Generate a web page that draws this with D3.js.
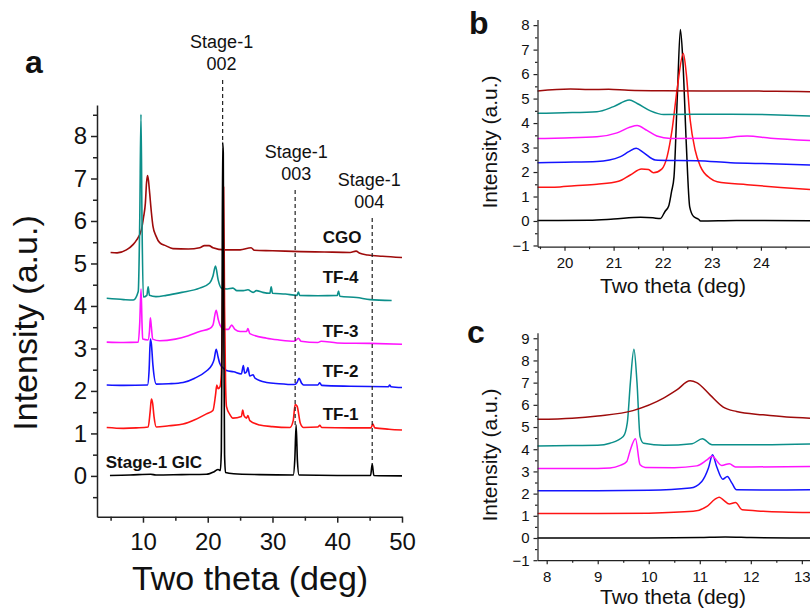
<!DOCTYPE html>
<html><head><meta charset="utf-8">
<script src="https://cdn.jsdelivr.net/npm/d3@7/dist/d3.min.js"></script>
<style>
body{margin:0;background:#fff;}
svg text{font-family:"Liberation Sans",Arial,sans-serif;fill:#111;}
</style></head>
<body><svg id="fig" width="810" height="610"></svg>
<script>
// ---------------- DATA ----------------
const seriesNames = ["Stage-1 GIC","TF-1","TF-2","TF-3","TF-4","CGO"];
const seriesColors = ["#000000","#ff1414","#1414ff","#ff14ff","#0c8f8a","#9e0b0b"];

// Panel a (full range)
const aGIC = [[4.9,0.01],[8,0.02],[11.2,0.04],[12,0.02],[16,0.03],[19.8,0.04],[21,0.1],[21.6,0.15],[21.95,0.13],[22.1,0.6],[22.2,3.0],[22.3,7.85],[22.4,7.6],[22.5,3.0],[22.6,0.5],[22.75,0.08],[24,0.05],[28,0.03],[33.2,0.02],[33.45,0.4],[33.65,1.2],[33.85,0.35],[34.1,0.02],[40,0.01],[45.15,0.01],[45.4,0.28],[45.65,0.01],[50,0.0]];
const aTF1 = [[4.4,1.14],[7,1.12],[9,1.13],[10.8,1.15],[11.1,1.5],[11.3,1.81],[11.5,1.7],[11.7,1.4],[12.06,1.15],[14,1.18],[16.2,1.22],[18,1.32],[19.8,1.46],[20.8,1.54],[21.2,1.9],[21.4,2.14],[21.6,2.05],[21.9,2.1],[22.1,2.4],[22.3,4.5],[22.45,6.8],[22.6,4.0],[22.75,2.2],[22.9,1.63],[23.4,1.45],[23.9,1.36],[25.2,1.4],[25.4,1.55],[25.6,1.42],[26,1.36],[26.2,1.42],[26.5,1.3],[28,1.2],[30,1.16],[32.7,1.14],[33.2,1.3],[33.5,1.68],[33.8,1.64],[34.3,1.24],[34.8,1.14],[37,1.15],[37.3,1.19],[37.6,1.14],[42,1.13],[45.2,1.13],[45.5,1.22],[45.8,1.13],[48,1.1],[50,1.08]];
const aTF2 = [[4.4,2.14],[7,2.13],[10.7,2.14],[10.95,2.5],[11.14,3.22],[11.3,3.1],[11.54,2.6],[12.06,2.16],[14,2.17],[16.2,2.2],[18,2.3],[19.8,2.47],[20.6,2.6],[21.0,2.75],[21.3,2.98],[21.6,2.8],[21.85,2.65],[22.3,2.55],[22.9,2.48],[24,2.45],[25.2,2.4],[25.5,2.6],[25.7,2.42],[26,2.45],[26.2,2.55],[26.5,2.35],[27,2.38],[27.3,2.3],[29.1,2.2],[31,2.17],[33.4,2.15],[33.8,2.2],[34.1,2.3],[34.5,2.18],[34.8,2.14],[37,2.14],[37.3,2.19],[37.6,2.13],[42,2.11],[47.9,2.1],[48.1,2.14],[48.3,2.1],[50,2.08]];
const aTF3 = [[4.4,3.15],[7,3.14],[9.27,3.15],[9.5,3.6],[9.7,4.4],[9.85,3.6],[9.95,3.22],[10.77,3.2],[11.0,3.4],[11.14,3.72],[11.3,3.5],[11.5,3.22],[12.6,3.18],[15,3.22],[17,3.3],[18.76,3.4],[20.3,3.47],[20.8,3.55],[21.3,3.9],[21.6,3.7],[21.9,3.55],[22.6,3.45],[23.2,3.45],[23.7,3.55],[24.2,3.45],[25,3.4],[26.0,3.4],[26.2,3.47],[26.5,3.35],[29.1,3.24],[31,3.2],[33.4,3.17],[34.0,3.24],[34.4,3.17],[37,3.14],[37.5,3.17],[40,3.13],[45,3.12],[50,3.1]];
const aTF4 = [[4.4,4.18],[7,4.15],[8.5,4.14],[9.27,4.34],[9.5,6.0],[9.69,8.51],[9.85,6.0],[10.05,4.21],[10.6,4.25],[10.8,4.45],[11.0,4.25],[12,4.22],[13.6,4.25],[16,4.32],[18.75,4.42],[20.3,4.54],[20.8,4.7],[21.2,4.94],[21.6,4.62],[22.1,4.42],[23.0,4.4],[23.9,4.42],[24.5,4.36],[25.5,4.36],[26.2,4.38],[27,4.32],[27.5,4.36],[28.5,4.32],[29.6,4.3],[29.8,4.45],[30.0,4.3],[32,4.28],[33.8,4.25],[34.0,4.33],[34.2,4.25],[37,4.24],[40.0,4.25],[40.2,4.35],[40.4,4.23],[43,4.2],[45.1,4.15],[48.4,4.13]];
const aCGO = [[5.0,5.26],[6,5.25],[7.44,5.32],[8.5,5.45],[9,5.55],[9.75,5.79],[10.1,6.1],[10.37,6.42],[10.55,6.9],[10.7,7.07],[10.85,6.95],[11.03,6.66],[11.3,6.2],[11.54,5.88],[12,5.65],[12.58,5.49],[13.5,5.42],[14.63,5.35],[17,5.34],[18.75,5.37],[19.5,5.42],[20.2,5.42],[20.8,5.37],[22.6,5.32],[25,5.32],[26.7,5.37],[27.2,5.31],[30,5.3],[34.4,5.28],[38,5.27],[42,5.26],[42.9,5.29],[43.5,5.24],[44.7,5.2],[47,5.17],[50,5.14]];

// Panel b (19.5-25 deg)
const bGIC = [[19.45,0.02],[20.5,0.03],[21.0,0.08],[21.55,0.15],[21.8,0.13],[21.95,0.1],[22.05,0.4],[22.12,0.6],[22.18,1.2],[22.23,1.8],[22.3,5.2],[22.36,7.82],[22.41,6.57],[22.48,3.17],[22.55,0.58],[22.63,0.18],[22.73,0.07],[22.77,0.0],[23.5,0.02],[25,0.01]];
const bTF1 = [[19.45,1.38],[19.8,1.38],[20.2,1.44],[20.66,1.5],[21.1,1.62],[21.34,1.88],[21.57,2.12],[21.71,2.1],[21.81,1.97],[21.98,2.12],[22.09,2.63],[22.19,3.71],[22.3,5.48],[22.42,6.84],[22.48,6.03],[22.56,4.12],[22.66,2.9],[22.77,2.22],[22.97,1.74],[23.11,1.6],[23.72,1.48],[24.4,1.37],[25,1.29]];
const bTF2 = [[19.45,2.38],[20.0,2.4],[20.66,2.43],[21.14,2.63],[21.31,2.83],[21.46,2.97],[21.61,2.79],[21.85,2.49],[22.16,2.47],[22.7,2.46],[23.38,2.38],[24.2,2.34],[25,2.29]];
const bTF3 = [[19.45,3.37],[20.0,3.39],[20.66,3.44],[21.07,3.6],[21.34,3.84],[21.48,3.9],[21.68,3.7],[21.88,3.47],[22.16,3.37],[23.11,3.38],[23.72,3.47],[24.2,3.38],[25,3.29]];
const bTF4 = [[19.45,4.4],[20.0,4.42],[20.66,4.46],[21.0,4.67],[21.32,4.94],[21.48,4.8],[21.75,4.5],[22.02,4.35],[23.38,4.36],[24.2,4.34],[25,4.29]];
const bCGO = [[19.45,5.31],[20.12,5.39],[20.5,5.37],[20.9,5.38],[21.3,5.34],[22.02,5.32],[23.38,5.31],[24.3,5.3],[25,5.28]];

// Panel c (8-13 deg)
const cGIC = [[7.82,0.0],[10,0.0],[11.0,0.02],[11.5,0.04],[12,0.02],[13.16,0.0]];
const cTF1 = [[7.82,1.1],[9,1.1],[10,1.12],[10.87,1.2],[11.14,1.42],[11.3,1.75],[11.38,1.84],[11.46,1.72],[11.58,1.53],[11.7,1.6],[11.83,1.27],[12.24,1.21],[13.16,1.15]];
const cTF2 = [[7.82,2.13],[9,2.13],[10,2.15],[10.81,2.25],[11.04,2.55],[11.17,3.15],[11.25,3.75],[11.33,3.22],[11.45,2.65],[11.54,2.77],[11.63,2.47],[11.72,2.17],[12.5,2.16],[13.16,2.17]];
const cTF3 = [[7.82,3.13],[9,3.13],[9.24,3.15],[9.44,3.27],[9.57,3.45],[9.63,3.9],[9.74,4.47],[9.83,3.3],[9.93,3.18],[10.5,3.17],[10.94,3.25],[11.14,3.52],[11.24,3.68],[11.43,3.27],[11.58,3.35],[11.7,3.2],[13.16,3.22]];
const cTF4 = [[7.82,4.15],[8.5,4.17],[9.0,4.18],[9.24,4.27],[9.5,4.57],[9.58,5.2],[9.64,7.0],[9.71,8.5],[9.77,7.0],[9.83,4.57],[9.9,4.27],[10.3,4.18],[10.85,4.25],[11.05,4.47],[11.24,4.2],[12,4.2],[13.16,4.24]];
const cCGO = [[7.82,5.35],[8.5,5.4],[9.0,5.5],[9.69,5.74],[10.29,6.3],[10.55,6.67],[10.81,7.08],[10.94,7.0],[11.2,6.45],[11.46,5.9],[11.72,5.7],[12.24,5.55],[12.7,5.45],[13.16,5.4]];

// Tick values
const aXTicks = [10,20,30,40,50], aXMinor = [5,15,25,35,45];
const aYTicks = [0,1,2,3,4,5,6,7,8], aYMinor = [-0.5,0.5,1.5,2.5,3.5,4.5,5.5,6.5,7.5,8.5];
const bXTicks = [20,21,22,23,24], bXMinor = [19.5,20.5,21.5,22.5,23.5,24.5];
const bYTicks = [-1,0,1,2,3,4,5,6,7,8], bYMinor = [-0.5,0.5,1.5,2.5,3.5,4.5,5.5,6.5,7.5];
const cXTicks = [8,9,10,11,12,13], cXMinor = [8.5,9.5,10.5,11.5,12.5];
const cYTicks = [-1,0,1,2,3,4,5,6,7,8,9], cYMinor = [-0.5,0.5,1.5,2.5,3.5,4.5,5.5,6.5,7.5,8.5];

// Stage-1 reflections (two theta, peak intensity of GIC)
const stagePeaks = [22.3, 33.5, 45.4];
const stagePeakTop = [7.85, 1.2, 0.28];
const stageNames = ["002","003","004"];

const xTitle = "Two theta (deg)", yTitle = "Intensity (a.u.)";

// ---------------- DRAW ----------------
const svg = d3.select("#fig");
svg.append("rect").attr("width",810).attr("height",610).attr("fill","#fff");
const FONT = '"Liberation Sans",Arial,sans-serif';

function panel(o){
  const x = d3.scaleLinear().domain(o.xd).range(o.xr);
  const y = d3.scaleLinear().domain(o.yd).range(o.yr);
  const g = svg.append("g");
  const line = d3.line().x(d=>x(d[0])).y(d=>y(d[1])).curve(d3.curveMonotoneX);
  o.series.forEach(s=>{
    g.append("path").datum(s.data).attr("d",line).attr("fill","none")
     .attr("stroke",s.color).attr("stroke-width",o.lw).attr("stroke-linejoin","round");
  });
  // axes
  const ax = g.append("g").attr("transform",`translate(0,${o.yr[0]})`);
  ax.call(d3.axisBottom(x).tickValues(o.xt).tickSize(o.tMaj).tickSizeOuter(0).tickPadding(o.xPad).tickFormat(d3.format("d")));
  const axm = g.append("g").attr("transform",`translate(0,${o.yr[0]})`);
  axm.call(d3.axisBottom(x).tickValues(o.xm).tickSize(o.tMin).tickSizeOuter(0).tickFormat(""));
  const ay = g.append("g").attr("transform",`translate(${o.xr[0]},0)`);
  ay.call(d3.axisLeft(y).tickValues(o.yt).tickSize(o.tMaj).tickSizeOuter(0).tickPadding(o.yPad).tickFormat(d3.format("d")));
  const aym = g.append("g").attr("transform",`translate(${o.xr[0]},0)`);
  aym.call(d3.axisLeft(y).tickValues(o.ym).tickSize(o.tMin).tickSizeOuter(0).tickFormat(""));
  [ax,axm,ay,aym].forEach(a=>{
    a.selectAll("path,line").attr("stroke","#222").attr("stroke-width",o.aw);
    a.selectAll("text").attr("font-size",o.tf).attr("font-family",FONT).attr("fill","#111");
  });
  axm.select("path").remove(); aym.select("path").remove();
  // titles
  g.append("text").attr("x",o.xtPos[0]).attr("y",o.xtPos[1]).attr("text-anchor","middle")
    .attr("font-size",o.titleF).text(xTitle);
  g.append("text").attr("transform",`translate(${o.ytPos[0]},${o.ytPos[1]}) rotate(-90)`)
    .attr("text-anchor","middle").attr("font-size",o.titleF).text(yTitle);
  g.append("text").attr("x",o.letterPos[0]).attr("y",o.letterPos[1]).attr("font-size",32)
    .attr("font-weight","bold").text(o.letter);
  return {x,y,g};
}

function mk(arrs){ return arrs.map((d,i)=>({data:d,color:seriesColors[i]})); }

// Panel a: draw order CGO -> GIC on top
const A = panel({
  xd:[2.9,50], xr:[97,402], yd:[-0.96,8.73], yr:[516.7,105],
  xt:aXTicks, xm:aXMinor, yt:aYTicks, ym:aYMinor,
  tMaj:6, tMin:4, xPad:10, yPad:4, tf:24, aw:1.5, lw:1.6, titleF:34,
  xtPos:[250,590], ytPos:[37,323], letter:"a", letterPos:[25,73],
  series: mk([aGIC,aTF1,aTF2,aTF3,aTF4,aCGO]).reverse()
});
// dashed stage lines + labels
stagePeaks.forEach((p,i)=>{
  const top = [80,190,218][i];
  A.g.append("line").attr("x1",A.x(p)).attr("x2",A.x(p))
    .attr("y1",top).attr("y2",A.y(stagePeakTop[i]))
    .attr("stroke","#222").attr("stroke-width",1.2).attr("stroke-dasharray","4,3");
  const lx = A.x(p) + [-1,1,-3][i];
  A.g.append("text").attr("x",lx).attr("y",top-32).attr("text-anchor","middle").attr("font-size",18).text("Stage-1");
  A.g.append("text").attr("x",lx).attr("y",top-10).attr("text-anchor","middle").attr("font-size",18).text(stageNames[i]);
});
// series labels
const labelY = [0.32,1.46,2.48,3.42,4.67,5.63];
seriesNames.forEach((n,i)=>{
  A.g.append("text").attr("x", i===0 ? A.x(4.24) : A.x(37.75)).attr("y",A.y(labelY[i])+6)
    .attr("font-size",17).attr("font-weight","bold").text(n);
});

// Panel b
panel({
  xd:[19.45,25.0], xr:[537.5,810], yd:[-1.05,8.23], yr:[246.7,19.5],
  xt:bXTicks, xm:bXMinor, yt:bYTicks, ym:bYMinor,
  tMaj:4, tMin:2.5, xPad:7, yPad:4, tf:15, aw:1.2, lw:1.5, titleF:21,
  xtPos:[673,293], ytPos:[497,142], letter:"b", letterPos:[469,34],
  series: mk([bGIC,bTF1,bTF2,bTF3,bTF4,bCGO])
});

// Panel c
panel({
  xd:[7.82,13.16], xr:[537.5,810], yd:[-1.0,9.25], yr:[560.2,332.7],
  xt:cXTicks, xm:cXMinor, yt:cYTicks, ym:cYMinor,
  tMaj:4, tMin:2.5, xPad:7, yPad:4, tf:15, aw:1.2, lw:1.5, titleF:21,
  xtPos:[673,604], ytPos:[497,455], letter:"c", letterPos:[467,343],
  series: mk([cGIC,cTF1,cTF2,cTF3,cTF4,cCGO])
});
</script></body></html>
